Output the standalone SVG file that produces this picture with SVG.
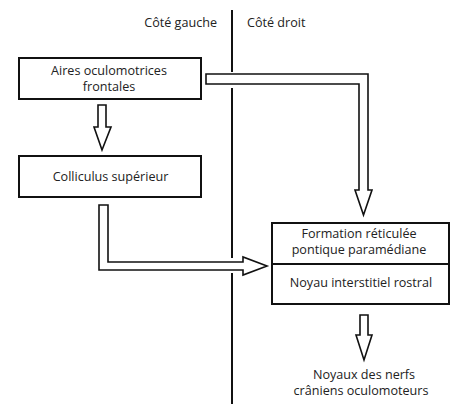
<svg xmlns="http://www.w3.org/2000/svg" width="451" height="404" viewBox="0 0 451 404">
<style>
text{font-family:"Open Sans","Noto Sans","DejaVu Sans",sans-serif;fill:#222;text-anchor:middle;font-size:12.6px}
.box{fill:#fff;stroke:#111;stroke-width:2}
.arr{fill:#fff;stroke:#111;stroke-width:1.6;stroke-linejoin:miter}
.sep{stroke:#111;stroke-width:2}
</style>
<rect width="451" height="404" fill="#fff"/>
<g id="separator">
<line class="sep" x1="232" y1="10" x2="232" y2="72"/>
<line class="sep" x1="232" y1="88" x2="232" y2="258"/>
<line class="sep" x1="232" y1="273" x2="232" y2="404"/>
<text x="217" y="27" style="text-anchor:end">Côté gauche</text>
<text x="247" y="27" style="text-anchor:start">Côté droit</text>
</g>
<g id="node-aires">
<rect class="box" x="19" y="58" width="182" height="41"/>
<text x="109" y="75">Aires oculomotrices</text>
<text x="109" y="91">frontales</text>
</g>
<g id="node-colliculus">
<rect class="box" x="19" y="156" width="182" height="41"/>
<text x="110.5" y="181">Colliculus supérieur</text>
</g>
<g id="node-pprf">
<rect class="box" x="272" y="223" width="177" height="81"/>
<line x1="272" y1="264" x2="449" y2="264" stroke="#111" stroke-width="2"/>
<text x="359" y="238">Formation réticulée</text>
<text x="359" y="254">pontique paramédiane</text>
<text x="361" y="287">Noyau interstitiel rostral</text>
</g>
<g id="node-noyaux">
<text x="364" y="379">Noyaux des nerfs</text>
<text x="361" y="395">crâniens oculomoteurs</text>
</g>
<g id="connectors">
<path class="arr" d="M206,74 H368 V190 H372 L363.5,215 L355,190 H359 V84 H206 Z"/>
<path class="arr" d="M98,105 H106 V127 H111 L102,150 L94,127 H98 Z"/>
<path class="arr" d="M99,205 H108 V262 H243 V257 L267,266 L243,275 V270 H99 Z"/>
<path class="arr" d="M360,315 H368 V335 H372 L364,360 L356,335 H360 Z"/>
</g>
</svg>
